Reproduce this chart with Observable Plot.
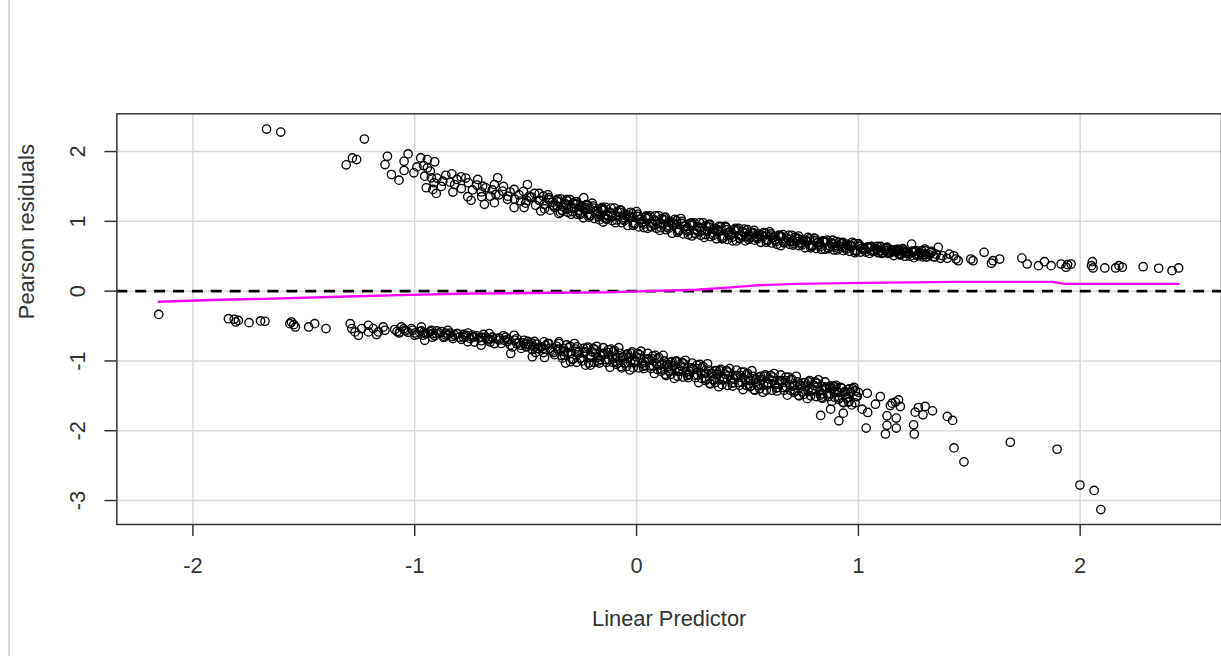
<!DOCTYPE html>
<html><head><meta charset="utf-8">
<script src="https://cdn.jsdelivr.net/npm/d3@7"></script>
<script src="https://cdn.jsdelivr.net/npm/@observablehq/plot@0.6"></script>
<style>
html,body{margin:0;padding:0;background:#fff;overflow:hidden;width:1221px;height:656px;}
#chart{position:absolute;left:0;top:0;z-index:1;}
#edge{position:absolute;left:7.5px;top:0;width:2px;height:656px;background:#d3d3d3;z-index:2;}
</style></head><body>
<div id="chart"></div><div id="edge"></div>
<script>
// ---- data: [linear predictor, Pearson residual] ----
const upperLeft = [
[-1.668,2.322],[-1.604,2.279],[-1.227,2.179],[-1.309,1.809],[-1.281,1.909],[-1.262,1.885],
[-1.123,1.932],[-1.134,1.813],[-1.105,1.671],[-1.071,1.590],[-1.048,1.860],[-1.030,1.966],
[-1.048,1.728],[-1.004,1.695],[-0.973,1.909],[-0.943,1.885],[-0.910,1.852],[-0.943,1.766],
[-0.955,1.647],[-0.925,1.624],[-0.913,1.553],[-0.948,1.481],[-0.918,1.457],[-0.903,1.400],
[-0.873,1.575],[-0.833,1.681],[-0.820,1.528],[-0.828,1.419],[-0.791,1.638],[-0.758,1.553],
[-0.761,1.353],[-0.746,1.301],[-0.716,1.600],[-0.694,1.504],[-0.698,1.353],[-0.686,1.244],
[-0.641,1.528],[-0.626,1.624],[-0.634,1.386],[-0.604,1.433],[-0.641,1.268],[-0.582,1.315],
[-0.552,1.457],[-0.552,1.197],[-0.522,1.291],[-0.492,1.528],[-0.484,1.362],[-0.507,1.197],
[-0.439,1.400],[-0.417,1.244],[-0.395,1.315],[-0.432,1.148],[-0.357,1.219],[-0.313,1.291],
[-0.343,1.125],[-0.275,1.244],[-0.238,1.339],[-0.253,1.101],[-0.208,1.172],[-0.156,1.182],
[-0.148,1.054],
[-0.99,1.78],[-0.96,1.80],[-0.93,1.72],[-0.90,1.62],[-0.88,1.50],[-0.86,1.66],[-0.84,1.56],
[-0.81,1.60],[-0.79,1.47],[-0.77,1.62],[-0.74,1.45],[-0.72,1.52],[-0.70,1.42],[-0.68,1.48],
[-0.66,1.36],[-0.65,1.45],[-0.62,1.38],[-0.60,1.50],[-0.58,1.36],[-0.57,1.42],[-0.55,1.32],
[-0.53,1.38],[-0.51,1.43],[-0.50,1.26],[-0.48,1.34],[-0.46,1.40],[-0.44,1.30],[-0.42,1.36]
];
const upperBand = [
[-0.40,1.38],[-0.39,1.16],[-0.38,1.27],[-0.37,1.20],[-0.36,1.30],[-0.35,1.11],[-0.34,1.32],[-0.33,1.21],
[-0.32,1.25],[-0.31,1.13],[-0.30,1.31],[-0.29,1.14],[-0.28,1.19],[-0.27,1.28],[-0.26,1.15],[-0.25,1.22],
[-0.24,1.05],[-0.23,1.17],[-0.22,1.23],[-0.21,1.08],[-0.20,1.26],[-0.19,1.04],[-0.18,1.15],[-0.17,1.07],
[-0.16,1.18],[-0.15,0.99],[-0.14,1.20],[-0.13,1.09],[-0.12,1.13],[-0.11,1.01],[-0.10,1.19],[-0.09,1.02],
[-0.08,1.07],[-0.07,1.16],[-0.06,1.03],[-0.05,1.10],[-0.04,0.94],[-0.03,1.05],[-0.02,1.11],[-0.01,0.96],
[0.00,1.14],[0.01,0.92],[0.02,1.03],[0.03,0.96],[0.04,1.06],[0.05,0.90],[0.06,1.08],[0.07,0.98],
[0.08,1.02],[0.09,0.90],[0.10,1.08],[0.11,0.91],[0.12,0.96],[0.13,1.06],[0.14,0.92],[0.15,1.00],
[0.16,0.83],[0.17,0.95],[0.18,1.01],[0.19,0.86],[0.20,1.04],[0.21,0.82],[0.22,0.93],[0.23,0.86],
[0.24,0.96],[0.25,0.79],[0.26,0.98],[0.27,0.88],[0.28,0.92],[0.29,0.80],[0.30,0.98],[0.31,0.81],
[0.32,0.86],[0.33,0.96],[0.34,0.82],[0.35,0.90],[0.36,0.75],[0.37,0.85],[0.38,0.92],[0.39,0.76],
[0.40,0.93],[0.41,0.74],[0.42,0.85],[0.43,0.77],[0.44,0.88],[0.45,0.72],[0.46,0.90],[0.47,0.80],
[0.48,0.85],[0.49,0.72],[0.50,0.88],[0.51,0.76],[0.52,0.79],[0.53,0.87],[0.54,0.77],[0.55,0.82],
[0.56,0.70],[0.57,0.78],[0.58,0.83],[0.59,0.72],[0.60,0.85],[0.61,0.69],[0.62,0.77],[0.63,0.71],
[0.64,0.80],[0.65,0.65],[0.66,0.81],[0.67,0.72],[0.68,0.76],[0.69,0.67],[0.70,0.80],[0.71,0.68],
[0.72,0.71],[0.73,0.79],[0.74,0.69],[0.75,0.74],[0.76,0.62],[0.77,0.71],[0.78,0.75],[0.79,0.64],
[0.80,0.76],[0.81,0.61],[0.82,0.70],[0.83,0.64],[0.84,0.72],[0.85,0.60],[0.86,0.73],[0.87,0.65],
[0.88,0.69],[0.89,0.59],[0.90,0.71],[0.91,0.61],[0.92,0.64],[0.93,0.70],[0.94,0.62],[0.95,0.67],
[0.96,0.57],[0.97,0.64],[0.98,0.68],[0.99,0.57],[1.00,0.68],[1.01,0.56],[1.02,0.62],[1.03,0.59],
[1.04,0.63],[1.05,0.54],[1.06,0.64],[1.07,0.59],[1.08,0.61],[1.09,0.55],[1.10,0.64],[1.11,0.55],
[1.12,0.58],[1.13,0.63],[1.14,0.55],[1.15,0.59],[1.16,0.51],[1.17,0.56],[1.18,0.60],[1.19,0.52],
[1.20,0.61],[1.21,0.50],[1.22,0.56],[1.23,0.53],[1.24,0.57],[1.25,0.48],[1.26,0.58],[1.27,0.53],
[1.28,0.55],[1.29,0.49],[1.30,0.58],[1.31,0.49],[1.32,0.52],[1.33,0.57],[1.34,0.49],[1.35,0.53],
[-0.395,1.31],[-0.375,1.22],[-0.355,1.32],[-0.335,1.15],[-0.315,1.23],[-0.295,1.10],[-0.275,1.28],
[-0.255,1.16],[-0.235,1.20],[-0.215,1.10],[-0.195,1.19],[-0.175,1.10],[-0.155,1.20],[-0.135,1.03],
[-0.115,1.11],[-0.095,0.98],[-0.075,1.16],[-0.055,1.05],[-0.035,1.08],[-0.015,0.98],[0.005,1.07],
[0.025,0.98],[0.045,1.08],[0.065,0.92],[0.085,1.00],[0.105,0.87],[0.125,1.05],[0.145,0.94],
[0.165,0.98],[0.185,0.88],[0.205,0.97],[0.225,0.88],[0.245,0.98],[0.265,0.82],[0.285,0.90],
[0.305,0.77],[0.325,0.95],[0.345,0.84],[0.365,0.88],[0.385,0.79],[0.405,0.88],[0.425,0.80],
[0.445,0.90],[0.465,0.75],[0.485,0.83],[0.505,0.74],[0.525,0.84],[0.545,0.78],[0.565,0.80],
[0.585,0.74],[0.605,0.79],[0.625,0.73],[0.645,0.80],[0.665,0.70],[0.685,0.74],[0.705,0.66],
[0.725,0.76],[0.745,0.69],[0.765,0.72],[0.785,0.66],[0.805,0.72],[0.825,0.66],[0.845,0.72],
[0.865,0.62],[0.885,0.67],[0.905,0.59],[0.925,0.69],[0.945,0.63],[0.965,0.65],[0.985,0.59],
[1.005,0.64],[1.025,0.60],[1.045,0.63],[1.065,0.57],[1.085,0.60],[1.105,0.54],[1.125,0.62],
[1.145,0.57],[1.165,0.59],[1.185,0.54],[1.205,0.57],[1.225,0.54],[1.245,0.57],[1.265,0.51],
[1.285,0.54],[1.305,0.49],
[-0.495,1.30],[-0.475,1.35],[-0.455,1.23],[-0.435,1.30],[-0.415,1.18],[-0.395,1.34],[-0.375,1.23],
[-0.355,1.28],[-0.335,1.16],[-0.315,1.31],[-0.295,1.20],[-0.275,1.25],[-0.255,1.12],[-0.235,1.18],
[-0.215,1.06],[-0.195,1.22],[-0.175,1.11],[-0.155,1.16],[-0.135,1.04],[-0.115,1.19],[-0.095,1.08],
[-0.075,1.13],[-0.055,1.01],[-0.035,1.06],[-0.015,0.94],[0.005,1.10],[0.025,0.99],[0.045,1.04],
[0.065,0.93],[0.085,1.08],[0.105,0.97],[0.125,1.02],[0.145,0.90],[0.165,0.96],[0.185,0.84],
[0.205,1.00],[0.225,0.89],[0.245,0.94],[0.265,0.83],[0.285,0.98],[0.305,0.87],[0.325,0.92],
[0.345,0.80],[0.365,0.87],[0.385,0.75],[0.405,0.91],[0.425,0.81],[0.445,0.86],[0.465,0.76],
[0.485,0.89],[0.505,0.80],[0.525,0.83],[0.545,0.75],[0.565,0.80],[0.585,0.70],[0.605,0.82],
[0.625,0.74],[0.645,0.78],[0.665,0.69],[0.685,0.80],[0.705,0.72],[0.725,0.75],[0.745,0.66],
[0.765,0.72],[0.785,0.62],[0.805,0.75],[0.825,0.67],[0.845,0.70],[0.865,0.61],[0.885,0.73],
[0.905,0.65],[0.925,0.68],[0.945,0.60],[0.965,0.65],[0.985,0.55],[1.005,0.66],[1.025,0.60],
[1.045,0.62],[1.065,0.57],[1.085,0.64],[1.105,0.58],[1.125,0.61],[1.145,0.55],[1.165,0.58],
[1.185,0.52],[1.205,0.59],[1.225,0.54],[1.245,0.56],[1.265,0.51],[1.285,0.58],[1.305,0.53],
[1.325,0.55],[1.345,0.49],
[-0.307,1.18],[-0.287,1.26],[-0.267,1.10],[-0.247,1.20],[-0.227,1.24],[-0.207,1.08],[-0.187,1.14],
[-0.167,1.02],[-0.147,1.17],[-0.127,1.07],[-0.107,1.07],[-0.087,1.14],[-0.067,0.98],[-0.047,1.08],
[-0.027,1.13],[-0.007,0.97],[0.013,1.03],[0.033,0.91],[0.053,1.06],[0.073,0.96],[0.093,0.96],
[0.113,1.04],[0.133,0.88],[0.153,0.98],[0.173,1.03],[0.193,0.87],[0.213,0.93],[0.233,0.81],
[0.253,0.96],[0.273,0.86],[0.293,0.86],[0.313,0.94],[0.333,0.78],[0.353,0.88],[0.373,0.93],
[0.393,0.77],[0.413,0.84],[0.433,0.72],[0.453,0.88],[0.473,0.78],[0.493,0.78],[0.513,0.85],
[0.533,0.73],[0.553,0.80],[0.573,0.84],[0.593,0.73],[0.613,0.77],[0.633,0.67],[0.653,0.78],
[0.673,0.71],[0.693,0.71],[0.713,0.77],[0.733,0.65],[0.753,0.72],[0.773,0.77],[0.793,0.65],
[0.813,0.69],[0.833,0.60],[0.853,0.71],[0.873,0.64],[0.893,0.63],[0.913,0.70],[0.933,0.58],
[0.953,0.65],[0.973,0.70],[0.993,0.58],[1.013,0.61],[1.033,0.56],[1.053,0.63],[1.073,0.57],
[1.093,0.58],[1.113,0.62],[1.133,0.54],[1.153,0.59],[1.173,0.60],[1.193,0.53],[1.213,0.55],
[1.233,0.50],[1.253,0.57],[1.273,0.51],[1.293,0.52]
];
const upperRight = [
[1.18,0.578],[1.21,0.556],[1.24,0.674],[1.27,0.531],[1.30,0.603],[1.33,0.556],[1.36,0.627],
[1.38,0.507],[1.41,0.531],[1.43,0.507],[1.45,0.436],[1.37,0.47],[1.40,0.47],[1.44,0.46],
[1.507,0.46],[1.517,0.436],[1.567,0.556],[1.600,0.40],[1.607,0.436],[1.637,0.46],
[1.737,0.474],[1.761,0.389],[1.812,0.365],[1.839,0.422],[1.869,0.365],[1.914,0.389],
[1.936,0.342],[1.943,0.379],[1.959,0.389],[2.051,0.365],[2.055,0.422],[2.058,0.332],
[2.111,0.332],[2.160,0.332],[2.175,0.365],[2.190,0.342],[2.284,0.350],[2.354,0.328],
[2.414,0.293],[2.444,0.332]
];
const lowerLeft = [
[-2.154,-0.333],[-1.840,-0.395],[-1.814,-0.404],[-1.795,-0.419],[-1.807,-0.442],[-1.747,-0.452],
[-1.695,-0.427],[-1.675,-0.433],[-1.556,-0.442],[-1.545,-0.480],[-1.538,-0.513],[-1.563,-0.466],
[-1.478,-0.513],[-1.451,-0.466],[-1.400,-0.537],[-1.291,-0.466],[-1.284,-0.537],[-1.269,-0.584],
[-1.254,-0.632],[-1.239,-0.537],[-1.209,-0.490],[-1.209,-0.584],[-1.187,-0.537],[-1.164,-0.584],
[-1.142,-0.513],[-1.134,-0.561],[-1.172,-0.622],[-1.060,-0.513],[-1.067,-0.584],[-1.045,-0.561],
[-1.015,-0.537],[-1.000,-0.632],[-0.970,-0.513],[-0.963,-0.632],[-0.955,-0.704],[-0.925,-0.561],
[-0.903,-0.608],[-0.865,-0.655],[-0.851,-0.561],[-0.828,-0.679],[-0.806,-0.608],[-0.768,-0.632],
[-0.761,-0.726],[-0.731,-0.655],[-0.701,-0.775],[-0.671,-0.679],[-0.664,-0.608],[-0.641,-0.751],
[-0.596,-0.704],[-0.567,-0.893],[-0.552,-0.632],[-0.522,-0.775],[-0.507,-0.704],[-0.470,-0.940],
[-0.447,-0.822],[-0.417,-0.726],[-0.388,-0.846],[-0.350,-0.726],[-0.327,-0.869],[-0.298,-1.011],
[-0.268,-0.798],[-0.231,-0.869],[-0.208,-1.060],
[-0.98,-0.58],[-0.94,-0.60],[-0.92,-0.66],[-0.88,-0.58],[-0.86,-0.63],[-0.84,-0.60],[-0.80,-0.66],
[-0.78,-0.62],[-0.75,-0.68],[-0.72,-0.64],[-0.70,-0.71],[-0.68,-0.66],[-0.66,-0.73],[-0.63,-0.68],
[-0.61,-0.75],[-0.59,-0.66],[-0.57,-0.77],[-0.55,-0.70],[-0.53,-0.74],[-0.50,-0.79],[-0.49,-0.72],
[-0.47,-0.84],[-0.45,-0.76],[-0.43,-0.80],[-0.42,-0.88],[-0.40,-0.75],[-0.39,-0.82],[-0.37,-0.91],
[-0.36,-0.79],
[-1.09,-0.55],[-1.07,-0.60],[-1.05,-0.54],[-1.03,-0.59],[-1.01,-0.56],[-0.99,-0.62],[-0.97,-0.57],
[-0.95,-0.61],[-0.93,-0.58],[-0.91,-0.64],[-0.89,-0.60],[-0.87,-0.66],[-0.85,-0.62],[-0.83,-0.65],
[-0.81,-0.61],[-0.79,-0.69],[-0.77,-0.65],[-0.76,-0.60],[-0.74,-0.66],[-0.73,-0.73],[-0.71,-0.67],
[-0.69,-0.62],[-0.67,-0.70],[-0.65,-0.66],[-0.64,-0.75],[-0.62,-0.70],[-0.60,-0.64],[-0.58,-0.72],
[-0.56,-0.80],[-0.54,-0.68],[-0.52,-0.82],[-0.51,-0.74],[-0.48,-0.77],[-0.46,-0.72],[-0.44,-0.83],
[-0.41,-0.78],[-0.38,-0.86],
[-1.08,-0.58],[-1.04,-0.57],[-1.00,-0.60],[-0.96,-0.59],[-0.92,-0.61],[-0.90,-0.57],[-0.86,-0.60],
[-0.82,-0.63],[-0.78,-0.66],[-0.74,-0.63],[-0.70,-0.66],[-0.66,-0.69],[-0.62,-0.67],[-0.58,-0.69],
[-0.54,-0.75],[-0.50,-0.76],[-0.46,-0.80],[-0.42,-0.82]
];
const lowerBand = [
[-0.35,-0.75],[-0.34,-0.92],[-0.33,-0.82],[-0.32,-1.03],[-0.31,-0.88],[-0.30,-0.79],[-0.29,-0.98],[-0.28,-0.75],
[-0.27,-1.02],[-0.26,-0.87],[-0.25,-0.96],[-0.24,-0.82],[-0.23,-1.06],[-0.22,-0.80],[-0.21,-0.93],[-0.20,-0.87],
[-0.19,-1.02],[-0.18,-0.79],[-0.17,-1.00],[-0.16,-0.93],[-0.15,-0.81],[-0.14,-0.98],[-0.13,-0.88],[-0.12,-1.09],
[-0.11,-0.94],[-0.10,-0.85],[-0.09,-1.05],[-0.08,-0.81],[-0.07,-1.08],[-0.06,-0.94],[-0.05,-1.03],[-0.04,-0.90],
[-0.03,-1.13],[-0.02,-0.87],[-0.01,-1.00],[0.00,-0.94],[0.01,-1.10],[0.02,-0.86],[0.03,-1.08],[0.04,-1.02],
[0.05,-0.89],[0.06,-1.07],[0.07,-0.97],[0.08,-1.18],[0.09,-1.04],[0.10,-0.95],[0.11,-1.15],[0.12,-0.92],
[0.13,-1.19],[0.14,-1.05],[0.15,-1.15],[0.16,-1.01],[0.17,-1.25],[0.18,-1.00],[0.19,-1.12],[0.20,-1.07],
[0.21,-1.23],[0.22,-0.99],[0.23,-1.21],[0.24,-1.15],[0.25,-1.03],[0.26,-1.20],[0.27,-1.11],[0.28,-1.31],
[0.29,-1.17],[0.30,-1.08],[0.31,-1.28],[0.32,-1.04],[0.33,-1.32],[0.34,-1.18],[0.35,-1.27],[0.36,-1.14],
[0.37,-1.37],[0.38,-1.12],[0.39,-1.25],[0.40,-1.19],[0.41,-1.35],[0.42,-1.11],[0.43,-1.32],[0.44,-1.26],
[0.45,-1.13],[0.46,-1.31],[0.47,-1.21],[0.48,-1.41],[0.49,-1.27],[0.50,-1.18],[0.51,-1.37],[0.52,-1.14],
[0.53,-1.41],[0.54,-1.26],[0.55,-1.36],[0.56,-1.22],[0.57,-1.45],[0.58,-1.20],[0.59,-1.32],[0.60,-1.26],
[0.61,-1.42],[0.62,-1.18],[0.63,-1.39],[0.64,-1.33],[0.65,-1.20],[0.66,-1.38],[0.67,-1.28],[0.68,-1.49],
[0.69,-1.34],[0.70,-1.26],[0.71,-1.45],[0.72,-1.22],[0.73,-1.49],[0.74,-1.35],[0.75,-1.44],[0.76,-1.31],
[0.77,-1.54],[0.78,-1.28],[0.79,-1.41],[0.80,-1.35],[0.81,-1.51],[0.82,-1.27],[0.83,-1.49],[0.84,-1.42],
[0.85,-1.30],[0.86,-1.47],[0.87,-1.38],[0.88,-1.58],[0.89,-1.44],[0.90,-1.35],[0.91,-1.55],[0.92,-1.38],
[0.93,-1.59],[0.94,-1.44],[0.95,-1.53],[0.96,-1.40],[0.97,-1.63],[0.98,-1.38],[0.99,-1.51],[1.00,-1.45],
[-0.345,-0.83],[-0.325,-0.92],[-0.305,-0.81],[-0.285,-0.97],[-0.265,-0.88],[-0.245,-1.00],[-0.225,-0.82],
[-0.205,-0.93],[-0.185,-0.89],[-0.165,-0.98],[-0.145,-0.89],[-0.125,-0.98],[-0.105,-0.87],[-0.085,-1.03],
[-0.065,-0.95],[-0.045,-1.08],[-0.025,-0.89],[-0.005,-1.00],[0.015,-0.96],[0.035,-1.06],[0.055,-0.97],
[0.075,-1.07],[0.095,-0.97],[0.115,-1.13],[0.135,-1.06],[0.155,-1.19],[0.175,-1.01],[0.195,-1.13],
[0.215,-1.09],[0.235,-1.19],[0.255,-1.11],[0.275,-1.20],[0.295,-1.10],[0.315,-1.26],[0.335,-1.18],
[0.355,-1.31],[0.375,-1.14],[0.395,-1.25],[0.415,-1.21],[0.435,-1.31],[0.455,-1.21],[0.475,-1.30],
[0.495,-1.20],[0.515,-1.36],[0.535,-1.27],[0.555,-1.40],[0.575,-1.22],[0.595,-1.32],[0.615,-1.28],
[0.635,-1.38],[0.655,-1.28],[0.675,-1.37],[0.695,-1.27],[0.715,-1.43],[0.735,-1.35],[0.755,-1.48],
[0.775,-1.30],[0.795,-1.41],[0.815,-1.37],[0.835,-1.47],[0.855,-1.38],[0.875,-1.47],[0.895,-1.37],
[0.915,-1.53],[0.935,-1.45],[0.955,-1.58],[0.975,-1.40],[0.995,-1.51],
[-0.495,-0.80],[-0.475,-0.74],[-0.455,-0.88],[-0.435,-0.80],[-0.415,-0.95],[-0.395,-0.75],[-0.375,-0.88],
[-0.355,-0.83],[-0.335,-0.96],[-0.315,-0.77],[-0.295,-0.89],[-0.275,-0.83],[-0.255,-0.96],[-0.235,-0.88],
[-0.215,-1.03],[-0.195,-0.82],[-0.175,-0.95],[-0.155,-0.89],[-0.135,-1.02],[-0.115,-0.83],[-0.095,-0.96],
[-0.075,-0.89],[-0.055,-1.03],[-0.035,-0.95],[-0.015,-1.10],[0.005,-0.89],[0.025,-1.03],[0.045,-0.97],
[0.065,-1.11],[0.085,-0.92],[0.105,-1.06],[0.125,-1.00],[0.145,-1.14],[0.165,-1.07],[0.185,-1.22],
[0.205,-1.02],[0.225,-1.16],[0.245,-1.10],[0.265,-1.24],[0.285,-1.05],[0.305,-1.18],[0.325,-1.13],
[0.345,-1.27],[0.365,-1.19],[0.385,-1.34],[0.405,-1.14],[0.425,-1.27],[0.445,-1.21],[0.465,-1.35],
[0.485,-1.16],[0.505,-1.28],[0.525,-1.22],[0.545,-1.35],[0.565,-1.27],[0.585,-1.42],[0.605,-1.21],
[0.625,-1.34],[0.645,-1.28],[0.665,-1.42],[0.685,-1.23],[0.705,-1.36],[0.725,-1.30],[0.745,-1.44],
[0.765,-1.36],[0.785,-1.50],[0.805,-1.30],[0.825,-1.43],[0.845,-1.37],[0.865,-1.51],[0.885,-1.36],
[0.905,-1.45],[0.925,-1.39],[0.945,-1.53],[0.965,-1.45],[0.985,-1.60],
[-0.207,-0.95],[-0.187,-0.84],[-0.167,-1.03],[-0.147,-0.90],[-0.127,-0.84],[-0.107,-1.02],[-0.087,-0.95],
[-0.067,-1.10],[-0.047,-0.91],[-0.027,-1.02],[-0.007,-1.02],[0.013,-0.91],[0.033,-1.11],[0.053,-0.98],
[0.073,-0.93],[0.093,-1.12],[0.113,-1.05],[0.133,-1.21],[0.153,-1.02],[0.173,-1.14],[0.193,-1.15],
[0.213,-1.04],[0.233,-1.24],[0.253,-1.12],[0.273,-1.06],[0.293,-1.25],[0.313,-1.18],[0.333,-1.33],
[0.353,-1.14],[0.373,-1.27],[0.393,-1.27],[0.413,-1.16],[0.433,-1.36],[0.453,-1.22],[0.473,-1.16],
[0.493,-1.35],[0.513,-1.28],[0.533,-1.42],[0.553,-1.23],[0.573,-1.35],[0.593,-1.34],[0.613,-1.23],
[0.633,-1.43],[0.653,-1.29],[0.673,-1.23],[0.693,-1.42],[0.713,-1.35],[0.733,-1.50],[0.753,-1.31],
[0.773,-1.43],[0.793,-1.43],[0.813,-1.32],[0.833,-1.52],[0.853,-1.39],[0.873,-1.36],[0.893,-1.52],
[0.913,-1.45],[0.933,-1.60],[0.953,-1.41]
];
const lowerRight = [
[0.830,-1.781],[0.875,-1.691],[0.912,-1.858],[0.932,-1.748],[0.957,-1.591],[1.017,-1.691],
[1.042,-1.738],[1.035,-1.962],[1.122,-2.047],[1.129,-1.923],[1.129,-1.786],[1.171,-1.819],
[1.171,-1.962],[1.189,-1.652],[1.249,-1.915],[1.252,-2.047],[1.256,-1.734],[1.271,-1.667],
[1.301,-1.652],[1.291,-1.772],[1.334,-1.715],[1.401,-1.795],[1.425,-1.852],[1.431,-2.246],
[1.476,-2.446],[1.685,-2.165],[1.896,-2.265],[1.999,-2.778],[2.063,-2.855],[2.093,-3.130],
[0.838,-1.534],[0.883,-1.392],[0.987,-1.430],[1.040,-1.463],[1.099,-1.510],[1.152,-1.605],
[1.181,-1.558],[1.077,-1.620],[1.144,-1.640],[1.167,-1.590]
];
// smoother (magenta) read at a few x positions
const smoothX = [-2.154,-1.88,-1.687,-1.499,-1.306,-1.019,-0.746,-0.357,-0.133,0.046,0.27,0.427,0.539,0.718,1.032,1.436,1.875,1.929,2.444];
const smoothY = [-0.152,-0.124,-0.110,-0.095,-0.077,-0.053,-0.034,-0.024,-0.017,0.0,0.019,0.054,0.083,0.104,0.118,0.132,0.132,0.104,0.104];
const xTicks = [-2, -1, 0, 1, 2];
const yTicks = [-3, -2, -1, 0, 1, 2];
const xDomain = [-2.343, 2.637];
const yDomain = [-3.343, 2.54];

const points = [...upperLeft, ...upperBand, ...upperRight, ...lowerLeft, ...lowerBand, ...lowerRight]
  .map(([x, y]) => ({x, y}));
const smooth = smoothX.map((x, i) => ({x, y: smoothY[i]}));
const fmt = d => String(d);

const chart = Plot.plot({
  width: 1228, height: 656,
  marginLeft: 117, marginRight: 0, marginTop: 114, marginBottom: 129,
  x: {domain: xDomain},
  y: {domain: yDomain},
  style: {fontFamily: "'Liberation Sans', Arial, sans-serif", fontSize: "22px", color: "#333", background: "#fff"},
  marks: [
    Plot.gridX(xTicks, {stroke: "#d9d9d9", strokeOpacity: 1, strokeWidth: 1.5}),
    Plot.gridY(yTicks, {stroke: "#d9d9d9", strokeOpacity: 1, strokeWidth: 1.5}),
    Plot.ruleY([0], {stroke: "#000", strokeWidth: 2.8, strokeDasharray: "11,8"}),
    Plot.dot(points, {x: "x", y: "y", r: 4.2, stroke: "#000", strokeWidth: 1.35, fill: "none"}),
    Plot.line(smooth, {x: "x", y: "y", stroke: "#ff00ff", strokeWidth: 2.4}),
    Plot.frame({stroke: "#333", strokeWidth: 1.5}),
    Plot.axisX(xTicks, {tickSize: 12, tickPadding: 21, tickFormat: fmt, color: "#333", strokeWidth: 1.5, fontSize: 22, label: null}),
    Plot.axisY(yTicks, {tickSize: 12, tickPadding: 27, tickRotate: -90, lineAnchor: "middle", tickFormat: fmt, color: "#333", strokeWidth: 1.5, fontSize: 22, label: null}),
    Plot.text(["Linear Predictor"], {frameAnchor: "bottom", dy: 95, lineAnchor: "middle", fontSize: 22, fill: "#333"}),
    Plot.text(["Pearson residuals"], {frameAnchor: "left", dx: -90, rotate: -90, lineAnchor: "middle", fontSize: 22, fill: "#333"})
  ]
});
document.getElementById("chart").appendChild(chart);
</script>
</body></html>
